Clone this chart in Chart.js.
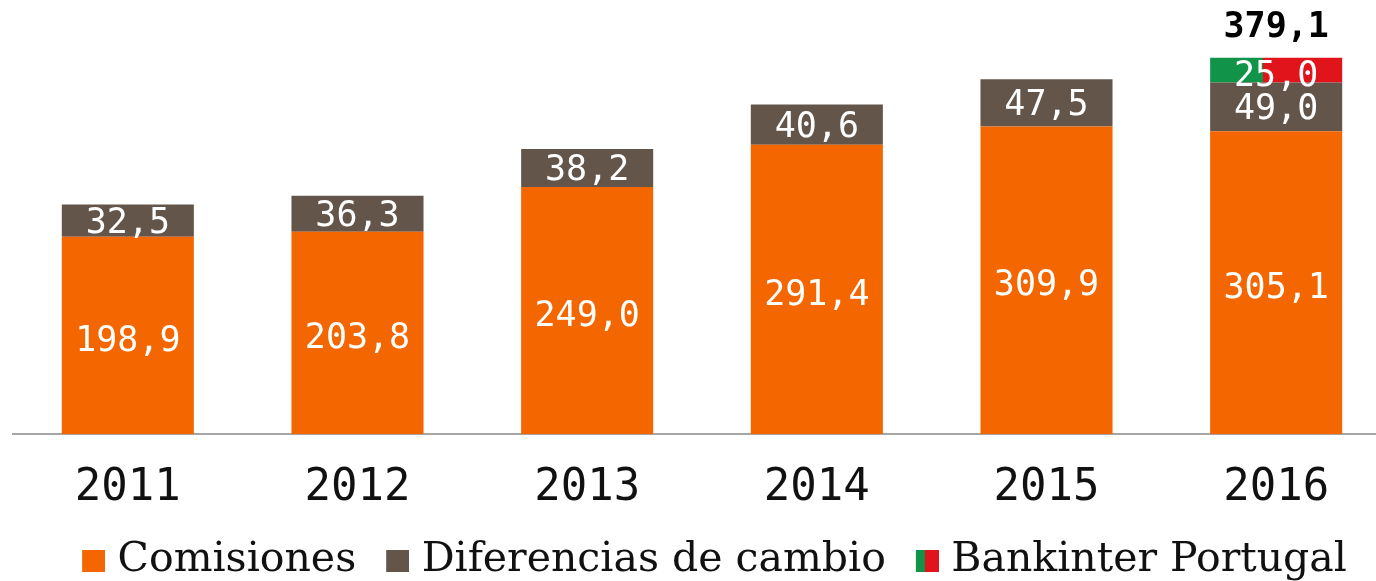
<!DOCTYPE html>
<html lang="es">
<head>
<meta charset="UTF-8">
<title>Margen por comisiones</title>
<script src="https://cdn.jsdelivr.net/npm/chart.js@4"></script>
<style>
  html, body { margin: 0; padding: 0; background: #fff; overflow: hidden; }
  #wrap { width: 1376px; height: 581px; overflow: hidden; position: relative; }
  #box { position: absolute; left: 0; top: 0; width: 1413px; height: 581px; }
</style>
</head>
<body>
<div id="wrap"><div id="box"><canvas id="myChart"></canvas></div></div>
<script>
const years = ['2011', '2012', '2013', '2014', '2015', '2016'];
const comisiones = [198.9, 203.8, 249.0, 291.4, 309.9, 305.1];
const diferencias = [32.5, 36.3, 38.2, 40.6, 47.5, 49.0];
const portugal = [null, null, null, null, null, 25.0];

const ORANGE = '#F46600';
const BROWN = '#63554A';
const GREEN = '#11934A';
const RED = '#E1141C';
const BAR_PCT = 0.575;
const PSW = 40; // legend point style width

const fmt = v => v.toFixed(1).replace('.', ',');

// legend swatches: square sits at the right end of a wider image,
// so the blank left part works as the gap between legend items
function swatch(colors, split) {
    const c = document.createElement('canvas');
    c.width = PSW + 16; c.height = 22;
    const g = c.getContext('2d');
    const x0 = c.width - 23;
    g.fillStyle = colors[0];
    g.fillRect(x0, 0, 23, 22);
    if (colors[1]) {
        g.fillStyle = colors[1];
        g.fillRect(x0 + Math.round(23 * split), 0, 23, 22);
    }
    return c;
}
const swatches = [swatch([ORANGE]), swatch([BROWN]), swatch([GREEN, RED], 0.4)];

function flagFill(ctx) {
    const chart = ctx.chart;
    const xs = chart.scales.x;
    if (!chart.chartArea || !xs) return RED;
    const cx = xs.getPixelForValue(ctx.dataIndex);
    const w = (xs.getPixelForValue(1) - xs.getPixelForValue(0)) * BAR_PCT;
    const g = chart.ctx.createLinearGradient(cx - w / 2, 0, cx + w / 2, 0);
    g.addColorStop(0, GREEN);
    g.addColorStop(0.4, GREEN);
    g.addColorStop(0.4, RED);
    g.addColorStop(1, RED);
    return g;
}

const barLabels = {
    id: 'barLabels',
    afterDatasetsDraw(chart) {
        const ctx = chart.ctx;
        ctx.save();
        ctx.textAlign = 'center';
        ctx.textBaseline = 'middle';
        ctx.font = '35px "DejaVu Sans Mono"';
        ctx.fillStyle = '#fff';
        chart.data.datasets.forEach((ds, di) => {
            const meta = chart.getDatasetMeta(di);
            meta.data.forEach((bar, i) => {
                const v = ds.data[i];
                if (v == null) return;
                const off = di === 0 ? 6 : (di === 2 ? 7 : 3);
                ctx.fillText(fmt(v), bar.x, (bar.y + bar.base) / 2 + off);
            });
        });
        // total above the last bar
        const last = years.length - 1;
        const total = comisiones[last] + diferencias[last] + (portugal[last] || 0);
        const top = chart.getDatasetMeta(2).data[last];
        ctx.font = 'bold 35px "DejaVu Sans Mono"';
        ctx.fillStyle = '#000';
        ctx.fillText(fmt(total), top.x, top.y - 30);
        ctx.restore();
    }
};

const ctx = document.getElementById('myChart').getContext('2d');
const myChart = new Chart(ctx, {
    type: 'bar',
    data: {
        labels: years,
        datasets: [
            { label: 'Comisiones', data: comisiones, backgroundColor: ORANGE },
            { label: 'Diferencias de cambio', data: diferencias, backgroundColor: BROWN },
            { label: 'Bankinter Portugal', data: portugal, backgroundColor: flagFill }
        ]
    },
    options: {
        responsive: true,
        maintainAspectRatio: false,
        animation: false,
        devicePixelRatio: 1,
        datasets: {
            bar: { categoryPercentage: 1, barPercentage: BAR_PCT, borderWidth: 0 }
        },
        layout: { padding: { left: 13, top: 40, right: 22, bottom: -10 } },
        scales: {
            x: {
                stacked: true,
                grid: { display: false },
                border: { display: true, color: '#A6A6A6', width: 2 },
                ticks: {
                    color: '#111',
                    padding: 20,
                    font: { family: '"DejaVu Sans Mono"', size: 44 }
                }
            },
            y: {
                stacked: true,
                display: false,
                min: 0,
                max: 397
            }
        },
        plugins: {
            tooltip: { enabled: false },
            legend: {
                position: 'bottom',
                labels: {
                    color: '#111',
                    usePointStyle: true,
                    pointStyleWidth: PSW,
                    boxHeight: 22,
                    padding: 5,
                    font: { family: '"DejaVu Serif"', size: 41 },
                    generateLabels(chart) {
                        return chart.data.datasets.map((ds, i) => ({
                            text: ds.label,
                            pointStyle: swatches[i],
                            fillStyle: 'transparent',
                            strokeStyle: 'transparent',
                            lineWidth: 0,
                            hidden: false,
                            datasetIndex: i,
                            fontColor: '#111'
                        }));
                    }
                }
            }
        }
    },
    plugins: [barLabels]
});
</script>
</body>
</html>
